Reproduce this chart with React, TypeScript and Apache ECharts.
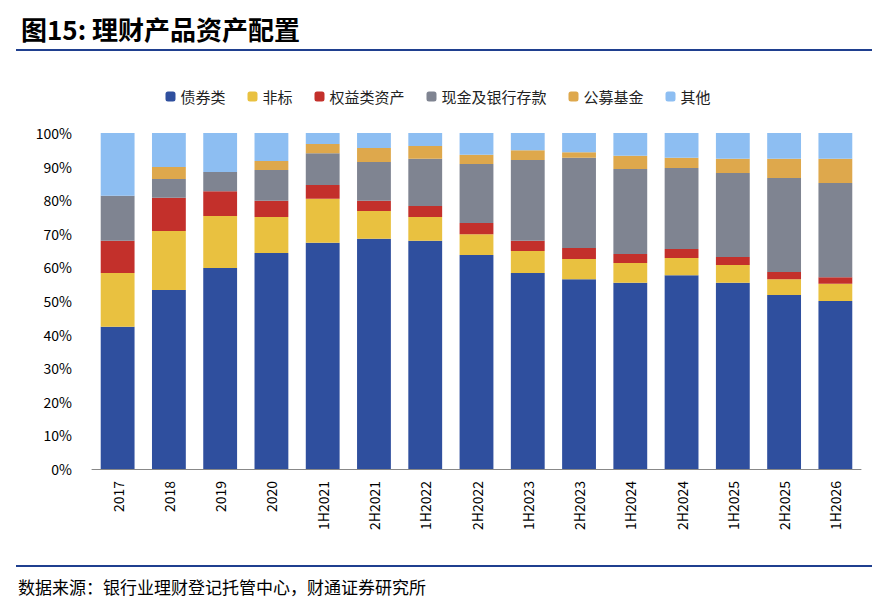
import * as echarts from 'echarts';
import { useEffect, useRef } from 'react';

const categories = ['2017', '2018', '2019', '2020', '1H2021', '2H2021', '1H2022', '2H2022', '1H2023', '2H2023', '1H2024', '2H2024', '1H2025', '2H2025', '1H2026'];
const bonds = [42.3, 53.3, 59.8, 64.3, 67.3, 68.5, 67.9, 63.7, 58.3, 56.5, 55.4, 57.7, 55.4, 51.8, 50.0];
const nonStandard = [16.0, 17.5, 15.5, 10.7, 13.1, 8.3, 7.1, 6.2, 6.6, 6.0, 5.9, 5.1, 5.3, 4.7, 5.1];
const equity = [9.6, 9.9, 7.4, 4.8, 4.1, 3.0, 3.3, 3.3, 3.0, 3.3, 2.7, 2.7, 2.4, 2.1, 2.0];
const cash = [13.4, 5.6, 5.7, 9.2, 9.5, 11.6, 14.0, 17.6, 24.1, 26.8, 25.3, 24.1, 25.0, 28.0, 28.0];
const funds = [0, 3.6, 0, 2.7, 2.7, 4.1, 3.8, 2.7, 2.9, 1.7, 3.9, 3.0, 4.2, 5.7, 7.2];
const others = [18.7, 10.1, 11.6, 8.3, 3.3, 4.5, 3.9, 6.5, 5.1, 5.7, 6.8, 7.4, 7.7, 7.7, 7.7];

const seriesDefs = [
    { name: '债券类', data: bonds, color: '#2F4F9E' },
    { name: '非标', data: nonStandard, color: '#E9C140' },
    { name: '权益类资产', data: equity, color: '#C3302B' },
    { name: '现金及银行存款', data: cash, color: '#7F8491' },
    { name: '公募基金', data: funds, color: '#DEA84C' },
    { name: '其他', data: others, color: '#8DBEF2' },
];

const App = () => {
    const chartRef = useRef(null);

    useEffect(() => {
        document.body.style.margin = '0';
        const chart = echarts.init(chartRef.current, null, { renderer: 'svg' });
        const font = '"Noto Sans CJK SC", "Noto Sans", sans-serif';
        chart.setOption({
            animation: false,
            textStyle: { fontFamily: font },
            title: {
                text: '图15: 理财产品资产配置',
                left: 16,
                top: 10,
                textStyle: { fontSize: 26, fontWeight: 'bold', color: '#000', fontFamily: font },
            },
            legend: {
                top: 84,
                left: 'center',
                itemWidth: 10,
                itemHeight: 10,
                itemGap: 22,
                textStyle: { fontSize: 15, color: '#222' },
                data: seriesDefs.map((s) => s.name),
            },
            graphic: [
                { type: 'line', shape: { x1: 16, y1: 50, x2: 872, y2: 50 }, style: { stroke: '#1F3F8F', lineWidth: 2 } },
                { type: 'line', shape: { x1: 16, y1: 566, x2: 872, y2: 566 }, style: { stroke: '#1F3F8F', lineWidth: 2 } },
                {
                    type: 'text',
                    left: 18,
                    top: 578,
                    style: { text: '数据来源：银行业理财登记托管中心，财通证券研究所', fontSize: 17, fill: '#000', fontFamily: font },
                },
            ],
            grid: { left: 92, right: 15, top: 133, bottom: 145 },
            xAxis: {
                type: 'category',
                data: categories,
                axisTick: { show: false },
                axisLine: { lineStyle: { color: '#888' } },
                axisLabel: { rotate: 90, color: '#000', fontSize: 14, margin: 12 },
            },
            yAxis: {
                type: 'value',
                min: 0,
                max: 100,
                interval: 10,
                splitLine: { show: false },
                axisLine: { show: false },
                axisTick: { show: false },
                axisLabel: { formatter: '{value}%', color: '#000', fontSize: 14, margin: 20 },
            },
            series: seriesDefs.map((s) => ({
                name: s.name,
                type: 'bar',
                stack: 'total',
                barWidth: '66%',
                data: s.data,
                itemStyle: { color: s.color },
            })),
        });
        return () => chart.dispose();
    }, []);

    return <div ref={chartRef} style={{ width: '876px', height: '614px' }} />;
};

export default App;
